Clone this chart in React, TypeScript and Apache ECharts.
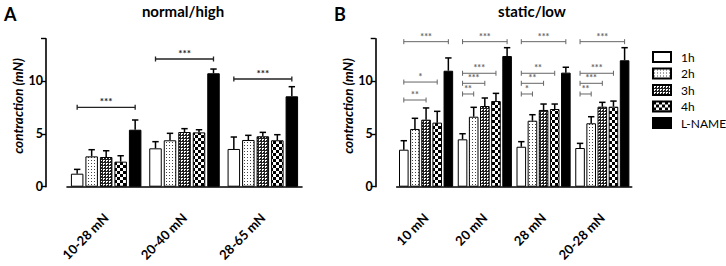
import React, { useEffect, useRef } from "react";
import * as echarts from "echarts";

const hours = ["1h", "2h", "3h", "4h", "L-NAME"];
const leftCategories = ["10-28 mN", "20-40 mN", "28-65 mN"];
const rightCategories = ["10 mN", "20 mN", "28 mN", "20-28 mN"];
const yTicks = [0, 5, 10];

// left panel (normal/high): mean and SEM per hour, per category
const leftMean1h = [1.23, 3.63, 3.57];
const leftMean2h = [2.87, 4.39, 4.42];
const leftMean3h = [2.81, 5.17, 4.77];
const leftMean4h = [2.37, 5.14, 4.39];
const leftMeanLN = [5.39, 10.73, 8.55];
const leftSem1h = [0.41, 0.63, 1.13];
const leftSem2h = [0.63, 0.66, 0.44];
const leftSem3h = [0.59, 0.32, 0.37];
const leftSem4h = [0.56, 0.25, 0.53];
const leftSemLN = [0.92, 0.4, 0.91];

// right panel (static/low)
const rightMean1h = [3.5, 4.48, 3.78, 3.66];
const rightMean2h = [5.46, 6.62, 6.24, 6.0];
const rightMean3h = [6.34, 7.63, 7.26, 7.57];
const rightMean4h = [6.06, 8.1, 7.35, 7.57];
const rightMeanLN = [10.97, 12.36, 10.79, 11.96];
const rightSem1h = [0.85, 0.53, 0.48, 0.44];
const rightSem2h = [1.01, 0.89, 0.57, 0.62];
const rightSem3h = [1.11, 0.76, 0.56, 0.41];
const rightSem4h = [1.07, 0.73, 0.47, 0.53];
const rightSemLN = [1.21, 0.79, 0.51, 1.19];

// significance brackets: [category, fromHour, toHour, level, stars]
const leftBrackets: [number, number, number, number, string][] = [
  [0, 0, 4, 7.51, "***"],
  [1, 0, 4, 12.08, "***"],
  [2, 0, 4, 10.19, "***"],
];
const rightBrackets: [number, number, number, number, string][] = [
  [0, 0, 4, 13.72, "***"],
  [0, 0, 3, 9.9, "*"],
  [0, 0, 2, 8.2, "**"],
  [1, 0, 4, 13.72, "***"],
  [1, 0, 3, 10.73, "***"],
  [1, 0, 2, 9.78, "***"],
  [1, 0, 1, 8.77, "**"],
  [2, 0, 4, 13.72, "***"],
  [2, 0, 3, 10.73, "**"],
  [2, 0, 2, 9.78, "**"],
  [2, 0, 1, 8.77, "*"],
  [3, 0, 4, 13.72, "***"],
  [3, 0, 3, 10.73, "***"],
  [3, 0, 2, 9.78, "***"],
  [3, 0, 1, 8.77, "**"],
];

const leftMeans = [leftMean1h, leftMean2h, leftMean3h, leftMean4h, leftMeanLN];
const leftSems = [leftSem1h, leftSem2h, leftSem3h, leftSem4h, leftSemLN];
const rightMeans = [rightMean1h, rightMean2h, rightMean3h, rightMean4h, rightMeanLN];
const rightSems = [rightSem1h, rightSem2h, rightSem3h, rightSem4h, rightSemLN];

const FONT = "Lato, 'Open Sans', sans-serif";

function makePattern(w: number, h: number, draw: (ctx: CanvasRenderingContext2D) => void) {
  const c = document.createElement("canvas");
  c.width = w;
  c.height = h;
  const ctx = c.getContext("2d")!;
  ctx.fillStyle = "#fff";
  ctx.fillRect(0, 0, w, h);
  draw(ctx);
  return { image: c, repeat: "repeat", imageWidth: w, imageHeight: h } as any;
}

export default function App() {
  const ref = useRef<HTMLDivElement>(null);
  useEffect(() => {
    document.body.style.margin = "0";
    const chart = echarts.init(ref.current!, null, { renderer: "svg" });

    const p2h = makePattern(3, 3, (ctx) => {
      ctx.fillStyle = "#444";
      ctx.fillRect(1, 1, 1, 1);
    });
    const p3h = makePattern(3, 3, (ctx) => {
      ctx.fillStyle = "#222";
      ctx.fillRect(0, 0, 3, 1);
      ctx.fillRect(0, 0, 1, 3);
      ctx.fillRect(2, 2, 1, 1);
    });
    const p4h = makePattern(6, 6, (ctx) => {
      ctx.fillStyle = "#000";
      ctx.fillRect(0, 0, 3, 3);
      ctx.fillRect(3, 3, 3, 3);
    });
    const fills: any[] = ["#fff", p2h, p3h, p4h, "#000"];

    const panels = [
      { cats: leftCategories, means: leftMeans, sems: leftSems, brackets: leftBrackets, bw: 12.5, left: 67, bColor: "#222", bWidth: 1.3, sSize: 10 },
      { cats: rightCategories, means: rightMeans, sems: rightSems, brackets: rightBrackets, bw: 9.6, left: 396.7, bColor: "#666", bWidth: 1, sSize: 9 },
    ];

    const grid: any[] = [];
    const xAxis: any[] = [];
    const yAxis: any[] = [];
    const series: any[] = [];

    panels.forEach((p, gi) => {
      grid.push({ left: p.left, top: 38.7, width: 235, height: 148 });
      xAxis.push({
        type: "category",
        gridIndex: gi,
        data: p.cats,
        offset: 20.6,
        axisLine: { lineStyle: { color: "#000", width: 1.6 } },
        axisTick: { alignWithLabel: true, length: 4, lineStyle: { color: "#000", width: 1.4 } },
        axisLabel: { rotate: 45, interval: 0, margin: 8, color: "#000", fontWeight: "bold", fontSize: 13, fontFamily: FONT },
      });
      yAxis.push({
        type: "value",
        gridIndex: gi,
        min: 0,
        max: 14,
        interval: 5,
        offset: 21,
        splitLine: { show: false },
        axisLine: { show: true, lineStyle: { color: "#000", width: 1.6 } },
        axisTick: { show: true, length: 5, lineStyle: { color: "#000", width: 1.4 } },
        axisLabel: {
          color: "#000", fontWeight: "bold", fontSize: 12.5, fontFamily: FONT, margin: 3,
          formatter: (v: number) => (yTicks.includes(v) ? String(v) : ""),
        },
      });
      hours.forEach((h, hi) => {
        series.push({
          type: "bar",
          name: h,
          xAxisIndex: gi,
          yAxisIndex: gi,
          data: p.means[hi],
          barWidth: p.bw,
          barGap: "16%",
          itemStyle: { color: fills[hi], borderColor: "#000", borderWidth: 1 },
        });
      });
      const errData: number[][] = [];
      hours.forEach((_, hi) => {
        p.cats.forEach((_, ci) => {
          errData.push([ci, hi, p.means[hi][ci], p.means[hi][ci] + p.sems[hi][ci]]);
        });
      });
      const bw = p.bw;
      series.push({
        type: "custom",
        xAxisIndex: gi,
        yAxisIndex: gi,
        z: 5,
        silent: true,
        data: errData,
        encode: { x: 0, y: 3 },
        renderItem: (params: any, api: any) => {
          const layout = api.barLayout({ count: 5, barWidth: bw, barGap: "16%" });
          const hi = api.value(1);
          const base = api.coord([api.value(0), api.value(2)]);
          const top = api.coord([api.value(0), api.value(3)]);
          const x = base[0] + layout[hi].offsetCenter;
          const cap = 3.2;
          return {
            type: "group",
            children: [
              { type: "line", shape: { x1: x, y1: base[1], x2: x, y2: top[1] }, style: { stroke: "#000", lineWidth: 1.5 } },
              { type: "line", shape: { x1: x - cap, y1: top[1], x2: x + cap, y2: top[1] }, style: { stroke: "#000", lineWidth: 1.5 } },
            ],
          };
        },
      });
      const br = p.brackets;
      series.push({
        type: "custom",
        xAxisIndex: gi,
        yAxisIndex: gi,
        z: 6,
        silent: true,
        data: br.map((b) => [b[0], b[1], b[2], b[3]]),
        encode: { x: 0, y: 3 },
        renderItem: (params: any, api: any) => {
          const layout = api.barLayout({ count: 5, barWidth: bw, barGap: "16%" });
          const c = api.coord([api.value(0), api.value(3)]);
          const x1 = c[0] + layout[api.value(1)].offsetCenter;
          const x2 = c[0] + layout[api.value(2)].offsetCenter;
          const y = c[1];
          const st = { stroke: p.bColor, lineWidth: p.bWidth };
          return {
            type: "group",
            children: [
              { type: "line", shape: { x1, y1: y, x2, y2: y }, style: st },
              { type: "line", shape: { x1, y1: y - 2.5, x2: x1, y2: y + 2.5 }, style: st },
              { type: "line", shape: { x1: x2, y1: y - 2.5, x2, y2: y + 2.5 }, style: st },
              {
                type: "text",
                x: (x1 + x2) / 2,
                y: y - 1,
                style: { text: br[params.dataIndex][4], fill: p.bColor, font: `bold ${p.sSize}px ${FONT}`, align: "center", verticalAlign: "bottom" },
              },
            ],
          };
        },
      });
    });

    chart.setOption({
      animation: false,
      backgroundColor: "#fff",
      grid,
      xAxis,
      yAxis,
      series,
      legend: {
        data: hours,
        orient: "vertical",
        left: 647,
        top: 46,
        itemWidth: 18,
        itemHeight: 10,
        itemGap: 4.5,
        icon: "rect",
        textStyle: { color: "#000", fontSize: 12, fontFamily: FONT, padding: [0, 0, 0, 5] },
      },
      graphic: [
        { type: "text", left: 4, top: 5, style: { text: "A", font: `bold 18px ${FONT}`, fill: "#000" } },
        { type: "text", left: 334, top: 5, style: { text: "B", font: `bold 18px ${FONT}`, fill: "#000" } },
        { type: "text", x: 183, y: 11, style: { text: "normal/high", font: `bold 15px ${FONT}`, fill: "#000", align: "center", verticalAlign: "middle" } },
        { type: "text", x: 532, y: 11, style: { text: "static/low", font: `bold 15px ${FONT}`, fill: "#000", align: "center", verticalAlign: "middle" } },
        { type: "text", x: 18, y: 106, rotation: Math.PI / 2, style: { text: "contraction (mN)", font: `italic bold 13.5px ${FONT}`, fill: "#000", align: "center", verticalAlign: "middle" } },
        { type: "text", x: 348, y: 106, rotation: Math.PI / 2, style: { text: "contraction (mN)", font: `italic bold 13.5px ${FONT}`, fill: "#000", align: "center", verticalAlign: "middle" } },
      ],
    });
    return () => chart.dispose();
  }, []);
  return <div ref={ref} style={{ width: 726, height: 266 }} />;
}
